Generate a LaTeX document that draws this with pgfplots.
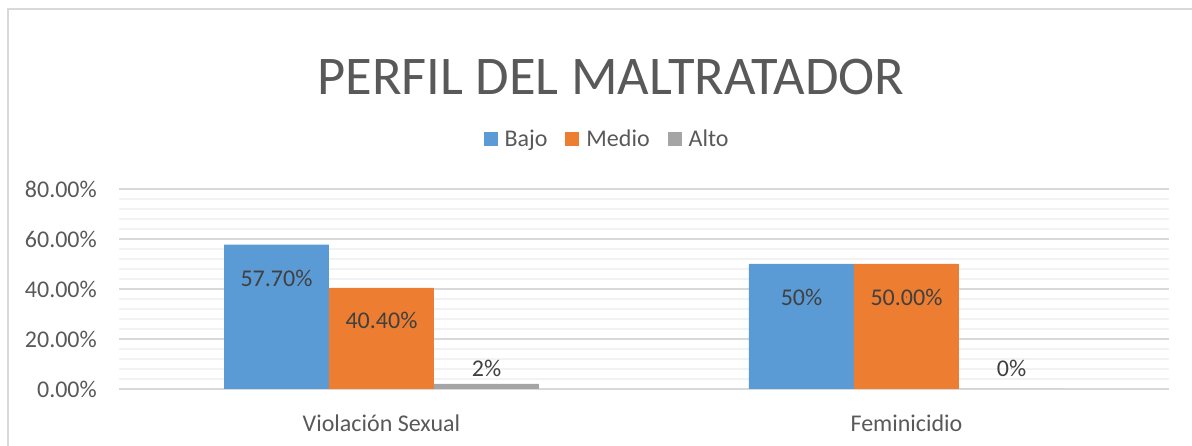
\documentclass[border=0pt]{standalone}
\usepackage{pgfplots}
\pgfplotsset{compat=1.18}
\usepackage{fontspec}
\setmainfont{Carlito}
\definecolor{cBajo}{HTML}{5B9BD5}
\definecolor{cMedio}{HTML}{ED7D31}
\definecolor{cAlto}{HTML}{A5A5A5}
\definecolor{txt}{HTML}{595959}
\definecolor{lbl}{HTML}{404040}
\definecolor{gmaj}{HTML}{D9D9D9}
\definecolor{gmin}{HTML}{F2F2F2}
\begin{document}
\begin{tikzpicture}
\useasboundingbox (0,0) rectangle (1192pt,446pt);
\draw[gmaj, line width=1.7pt] (8pt,0) -- (8pt,437pt) -- (1192pt,437pt);
\begin{axis}[
 at={(119pt,57pt)}, anchor=south west,
 scale only axis, width=1050pt, height=200pt,
 xmin=-0.5, xmax=1.5, ymin=0, ymax=80,
 xtick={0,1}, xticklabels={Violación Sexual, Feminicidio},
 ytick={0,20,40,60,80}, yticklabels={0.00\%,20.00\%,40.00\%,60.00\%,80.00\%},
 minor y tick num=4,
 ymajorgrids, yminorgrids,
 major grid style={gmaj, line width=1.5pt},
 minor grid style={gmin, line width=1.3pt},
 axis line style={draw=none},
 major tick length=0pt, minor tick length=0pt,
 tick label style={font=\fontsize{24}{28}\selectfont, text=txt},
 xticklabel style={anchor=base, yshift=-43pt},
 yticklabel style={anchor=east, inner sep=0pt, xshift=-22pt},
 legend style={draw=none, fill=none, at={(0.4648,1.25)}, anchor=center, legend columns=-1,
   font=\fontsize{24}{28}\selectfont, text=txt,
   /tikz/every odd column/.append style={column sep=5pt},
   /tikz/every even column/.append style={column sep=16pt}},
 clip=false,
]
\addplot[ybar, bar width=0.2, bar shift=-0.2, fill=cBajo, draw=none,
  legend image code/.code={\fill[cBajo] (0pt,-7pt) rectangle (14pt,7pt);}]
  coordinates {(0,57.7) (1,50)};
\addlegendentry{Bajo}
\addplot[ybar, bar width=0.2, bar shift=0, fill=cMedio, draw=none,
  legend image code/.code={\fill[cMedio] (0pt,-7pt) rectangle (14pt,7pt);}]
  coordinates {(0,40.4) (1,50)};
\addlegendentry{Medio}
\addplot[ybar, bar width=0.2, bar shift=0.2, fill=cAlto, draw=none,
  legend image code/.code={\fill[cAlto] (0pt,-7pt) rectangle (14pt,7pt);}]
  coordinates {(0,2) (1,0)};
\addlegendentry{Alto}
\addplot[forget plot, only marks, mark=*, mark size=0.01pt, mark options={draw=none, fill=none},
  nodes near coords, point meta=explicit symbolic,
  nodes near coords style={anchor=center, font=\fontsize{24}{28}\selectfont, text=lbl}]
  coordinates {(-0.2,44.4) [57.70\%] (0,27.6) [40.40\%] (0.2,8.4) [2\%]
               (0.8,36.8) [50\%] (1,36.8) [50.00\%] (1.2,8.4) [0\%]};
\node[font=\fontsize{54.5}{60}\selectfont, text=txt, anchor=base] at (axis description cs:0.4686,1.47) {PERFIL DEL MALTRATADOR};
\end{axis}
\end{tikzpicture}
\end{document}
